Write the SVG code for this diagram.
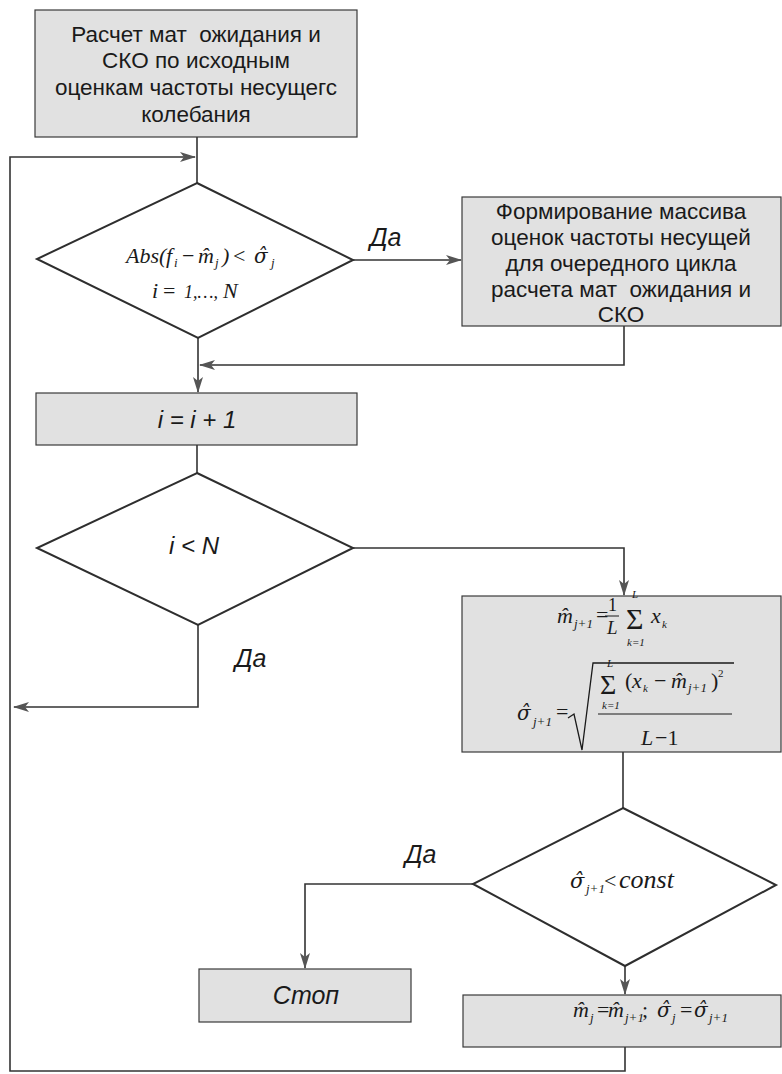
<svg xmlns="http://www.w3.org/2000/svg" width="782" height="1074" viewBox="0 0 782 1074">
<defs>
<style>
.box{fill:#e1e1e1;stroke:#3a3a3a;stroke-width:1.2}
.dia{fill:none;stroke:#2e2e2e;stroke-width:2}
.con{fill:none;stroke:#333;stroke-width:1.6}
.t{font-family:"Liberation Sans",Arial,sans-serif;font-size:22.5px;fill:#1a1a1a;text-anchor:middle;white-space:pre}
.ti{font-family:"Liberation Sans",Arial,sans-serif;font-size:24px;font-style:italic;fill:#1a1a1a;text-anchor:middle;white-space:pre}
.lab{font-family:"Liberation Sans",Arial,sans-serif;font-size:25px;font-style:italic;fill:#1a1a1a}
.m{font-family:"Liberation Serif","Times New Roman",serif;font-size:22px;font-style:italic;fill:#1a1a1a}
.g{font-family:"DejaVu Serif",serif;font-size:20px;font-style:italic}
.u{font-style:normal}
.s{font-size:13px}
.ss{font-size:11px}
</style>
<marker id="ar" markerUnits="userSpaceOnUse" markerWidth="16" markerHeight="10" refX="15" refY="5" orient="auto">
<path d="M0,0 L16,5 L0,10 L4,5 z" fill="#555"/>
</marker>
</defs>
<rect width="782" height="1074" fill="#ffffff"/>

<g id="connectors">
<path class="con" d="M197,137 V183"/>
<path class="con" d="M625,1047 V1071 H10 V157 H195" marker-end="url(#ar)"/>
<path class="con" d="M353,260 H461" marker-end="url(#ar)"/>
<path class="con" d="M624,326 V365 H200" marker-end="url(#ar)"/>
<path class="con" d="M198,338 V392" marker-end="url(#ar)"/>
<path class="con" d="M197,445 V473"/>
<path class="con" d="M353,548 H624 V595" marker-end="url(#ar)"/>
<path class="con" d="M198,625 V707 H14" marker-end="url(#ar)"/>
<path class="con" d="M623,752 V808"/>
<path class="con" d="M473,884 H305 V968" marker-end="url(#ar)"/>
<path class="con" d="M625,966 V994" marker-end="url(#ar)"/>
</g>

<g id="start">
<rect class="box" x="35" y="10" width="322" height="127"/>
<text class="t" x="196" y="42" xml:space="preserve">Расчет мат  ожидания и</text>
<text class="t" x="196" y="68">СКО по исходным</text>
<text class="t" x="196" y="95">оценкам частоты несущегс</text>
<text class="t" x="196" y="122">колебания</text>
</g>

<g id="cond1">
<polygon class="dia" points="197,183 353,260 198,338 37,259"/>
<text class="m"><tspan x="126" y="263">Abs(</tspan><tspan x="166" y="263">f</tspan><tspan class="s" x="174" y="267">i</tspan><tspan class="u" x="182" y="263">−</tspan><tspan x="198" y="263">m̂</tspan><tspan class="s" x="215" y="267">j</tspan><tspan x="222" y="263">)</tspan><tspan class="u" x="233" y="263">&lt;</tspan><tspan class="g" x="254" y="263">σ̂</tspan><tspan class="s" x="271" y="267">j</tspan></text>
<text class="m"><tspan x="152" y="298">i</tspan><tspan class="u" x="163" y="298">=</tspan><tspan x="184" y="298" style="font-size:18px">1,…,</tspan><tspan x="223" y="298">N</tspan></text>
</g>

<g id="label-yes1">
<text class="lab" x="370" y="246">Да</text>
</g>

<g id="form-array">
<rect class="box" x="462" y="197" width="319" height="129"/>
<text class="t" x="621" y="219">Формирование массива</text>
<text class="t" x="621" y="245">оценок частоты несущей</text>
<text class="t" x="621" y="271">для очередного цикла</text>
<text class="t" x="621" y="297" xml:space="preserve">расчета мат  ожидания и</text>
<text class="t" x="621" y="322">СКО</text>
</g>

<g id="increment">
<rect class="box" x="36" y="393" width="321" height="52"/>
<text class="ti" x="197" y="428">i = i + 1</text>
</g>

<g id="cond2">
<polygon class="dia" points="197,473 353,548 198,625 37,548"/>
<text class="ti" x="194" y="554">i &lt; N</text>
</g>

<g id="label-yes2">
<text class="lab" x="235" y="667">Да</text>
</g>

<g id="compute">
<rect class="box" x="462" y="596" width="319" height="156"/>
<text class="m">
<tspan x="557" y="623">m̂</tspan><tspan class="s" x="574" y="628">j+1</tspan>
<tspan class="u" x="596" y="622">=</tspan>
<tspan class="u" x="608" y="611" style="font-size:18px">1</tspan>
<tspan x="607" y="634" style="font-size:19px">L</tspan>
<tspan class="u" x="626" y="629" style="font-size:30px">Σ</tspan>
<tspan class="ss" x="632" y="598">L</tspan>
<tspan class="ss" x="627" y="646">k=1</tspan>
<tspan x="651" y="623">x</tspan><tspan class="ss" x="662" y="628">k</tspan>
</text>
<path d="M605,616 H619" stroke="#1a1a1a" stroke-width="1"/>
<text class="m">
<tspan class="g" x="517" y="720">σ̂</tspan><tspan class="s" x="533" y="726">j+1</tspan>
<tspan class="u" x="556" y="719">=</tspan>
<tspan class="u" x="600" y="694" style="font-size:28px">Σ</tspan>
<tspan class="ss" x="607" y="667">L</tspan>
<tspan class="ss" x="602" y="709">k=1</tspan>
<tspan class="u" x="625" y="688">(</tspan><tspan x="632" y="688">x</tspan><tspan class="ss" x="643" y="692">k</tspan>
<tspan class="u" x="654" y="688">−</tspan>
<tspan x="671" y="688">m̂</tspan><tspan class="s" x="688" y="692">j+1</tspan>
<tspan class="u" x="711" y="688">)</tspan><tspan class="ss u" x="718" y="677">2</tspan>
<tspan x="641" y="745">L</tspan><tspan class="u" x="655" y="745">−1</tspan>
</text>
<path d="M598,714 H732" stroke="#1a1a1a" stroke-width="1"/>
<path d="M568,718 L574,714 L582,750 L593,663 H734" fill="none" stroke="#1a1a1a" stroke-width="1.3"/>
</g>

<g id="cond3">
<polygon class="dia" points="623,808 776,885 625,966 473,884"/>
<text class="m"><tspan class="g" x="570" y="888" style="font-size:21px">σ̂</tspan><tspan class="s" x="586" y="893">j+1</tspan><tspan class="u" x="604" y="888">&lt;</tspan><tspan x="619" y="888" style="font-size:26px">const</tspan></text>
</g>

<g id="label-yes3">
<text class="lab" x="405" y="863">Да</text>
</g>

<g id="stop">
<rect class="box" x="199" y="969" width="212" height="53"/>
<text class="ti" x="306" y="1004" style="font-size:25px">Стоп</text>
</g>

<g id="update">
<rect class="box" x="463" y="995" width="318" height="52"/>
<text class="m">
<tspan x="573" y="1017">m̂</tspan><tspan class="s" x="590" y="1022">j</tspan>
<tspan class="u" x="597" y="1017">=</tspan>
<tspan x="608" y="1017">m̂</tspan><tspan class="s" x="625" y="1022">j+1</tspan>
<tspan class="u" x="642" y="1017">;</tspan>
<tspan class="g" x="657" y="1017">σ̂</tspan><tspan class="s" x="672" y="1022">j</tspan>
<tspan class="u" x="680" y="1017">=</tspan>
<tspan class="g" x="694" y="1017">σ̂</tspan><tspan class="s" x="709" y="1022">j+1</tspan>
</text>
</g>
</svg>
